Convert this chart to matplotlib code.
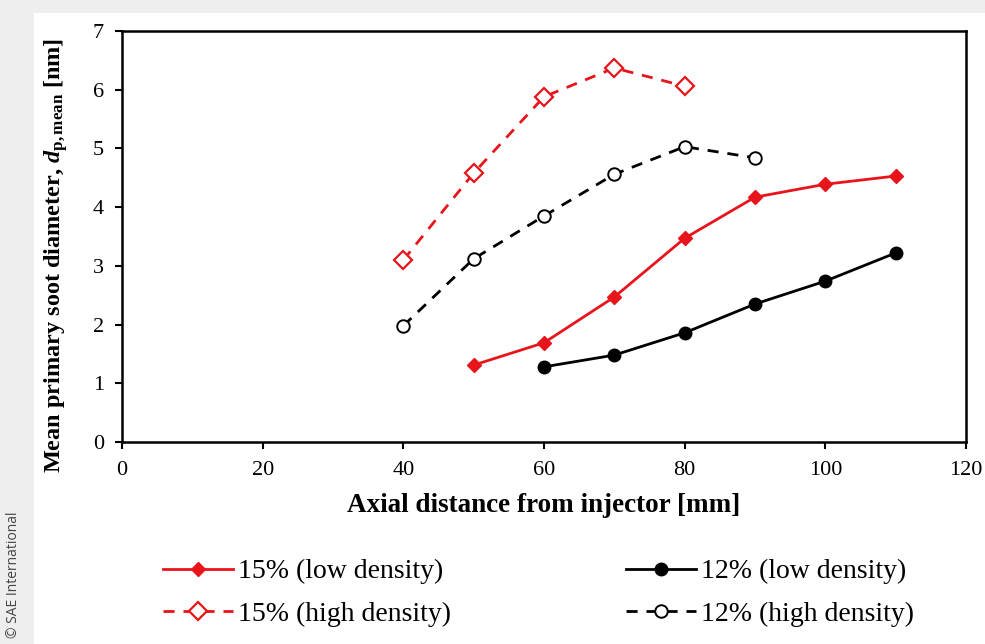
import matplotlib.pyplot as plt
from matplotlib.patches import Rectangle

plt.rcParams['font.family'] = 'Liberation Serif'
plt.rcParams['mathtext.fontset'] = 'custom'
plt.rcParams['mathtext.rm'] = 'Liberation Serif:bold'
plt.rcParams['mathtext.it'] = 'Liberation Serif:italic:bold'
plt.rcParams['mathtext.bf'] = 'Liberation Serif:bold'

# data
x_low15 = [50, 60, 70, 80, 90, 100, 110]
y_low15 = [1.31, 1.69, 2.47, 3.47, 4.17, 4.39, 4.53]
x_low12 = [60, 70, 80, 90, 100, 110]
y_low12 = [1.28, 1.48, 1.86, 2.35, 2.74, 3.22]
x_high15 = [40, 50, 60, 70, 80]
y_high15 = [3.10, 4.58, 5.88, 6.37, 6.06]
x_high12 = [40, 50, 60, 70, 80, 90]
y_high12 = [1.98, 3.12, 3.85, 4.56, 5.03, 4.84]

red = '#e8141b'
fig = plt.figure(figsize=(9.85, 6.44), dpi=100)
fig.patch.set_facecolor('#eeeeee')
fig.patches.append(Rectangle((34 / 985, 0), 1, 1 - 13 / 644, transform=fig.transFigure,
                             facecolor='white', edgecolor='none', zorder=-10))

ax = fig.add_axes([122 / 985, 1 - 442 / 644, (966 - 122) / 985, (442 - 31) / 644], zorder=2)
ax.set_facecolor('white')

dash = (0, (4, 3.2))
ax.plot(x_low15, y_low15, color=red, lw=2, marker='D', ms=7, mfc=red, mec=red,
        label='15% (low density)')
ax.plot(x_low12, y_low12, color='black', lw=2, marker='o', ms=9, mfc='black', mec='black',
        label='12% (low density)')
ax.plot(x_high15, y_high15, color=red, lw=2, ls=dash, marker='D', ms=9.5, mfc='white',
        mec=red, mew=1.6, label='15% (high density)')
ax.plot(x_high12, y_high12, color='black', lw=2, ls=dash, marker='o', ms=9, mfc='white',
        mec='black', mew=1.4, label='12% (high density)')

ax.set_xlim(0, 120)
ax.set_ylim(0, 7)
ax.set_xticks(range(0, 121, 20))
ax.set_yticks(range(0, 8))
for s in ax.spines.values():
    s.set_linewidth(1.8)
ax.tick_params(axis='both', labelsize=16, width=1.5, length=5, direction='out')
ax.tick_params(axis='x', pad=9)
ax.tick_params(axis='y', pad=8)

ax.set_xlabel('Axial distance from injector [mm]', fontsize=19.5, fontweight='bold', labelpad=9)
ax.set_ylabel(r'Mean primary soot diameter, $d_{\mathrm{p,mean}}$ [nm]', fontsize=17.5,
              fontweight='bold')
ax.yaxis.set_label_coords(-0.062, 0.455)

h, l = ax.get_legend_handles_labels()
order = [0, 2, 1, 3]
fig.legend([h[i] for i in order], [l[i] for i in order], loc='center',
           bbox_to_anchor=(0.547, 1 - 593 / 644), ncol=2, frameon=False, fontsize=20,
           handlelength=2.5, handletextpad=0.2, columnspacing=6.3, labelspacing=0.62)

fig.text(14 / 985, 1 - 575 / 644, '© SAE International', rotation=90, fontsize=10,
         family='Open Sans', color='#444444', ha='center', va='center')

fig.savefig('out.png', dpi=100, facecolor=fig.get_facecolor())
